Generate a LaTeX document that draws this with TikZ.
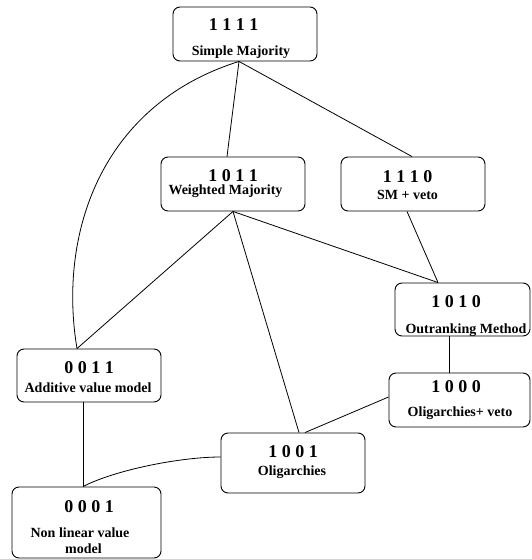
\documentclass[tikz,border=0pt]{standalone}
\usepackage{fontspec}
\setmainfont{Liberation Serif}
\usetikzlibrary{calc}
\begin{document}
\begin{tikzpicture}[x=1pt,y=-1pt,
  box/.style={draw,line width=0.9pt,rounded corners=7pt,inner sep=0pt},
  code/.style={anchor=base,inner sep=0pt,font=\fontsize{18}{20}\selectfont\bfseries},
  lbl/.style={anchor=base,inner sep=0pt,font=\fontsize{14}{16}\selectfont\bfseries},
  edge/.style={line width=0.8pt}]
\useasboundingbox (0,0) rectangle (531,559);
% boxes
\node[box,minimum width=144pt,minimum height=54pt] (b1111) at (245,34) {};
\node[box,minimum width=144pt,minimum height=54pt] (b1011) at (233,184) {};
\node[box,minimum width=144pt,minimum height=54pt] (b1110) at (413,184) {};
\node[box,minimum width=135pt,minimum height=53pt] (b1010) at (462.5,309.5) {};
\node[box,minimum width=144pt,minimum height=53pt] (b0011) at (89,375.5) {};
\node[box,minimum width=149pt,minimum height=71pt] (b0001) at (86.5,522.5) {};
\node[box,minimum width=144pt,minimum height=60pt] (b1001) at (293,463) {};
\node[box,minimum width=141pt,minimum height=54pt] (b1000) at (459.5,400) {};
% texts
\node[code] (c1111) at (233.5,31) {1 1 1 1};
\node[lbl] (l1111) at (241,56) {Simple Majority};
\node[code] (c1011) at (233,181) {1 0 1 1};
\node[lbl] (l1011) at (225.5,194) {Weighted Majority};
\node[code] (c1110) at (407.5,182) {1 1 1 0};
\node[lbl] (l1110) at (407.5,199) {SM + veto};
\node[code] (c1010) at (456,307) {1 0 1 0};
\node[lbl] (l1010) at (466,333) {Outranking Method};
\node[code] (c0011) at (89,373) {0 0 1 1};
\node[lbl] (l0011) at (88,392) {Additive value model};
\node[code] (c0001) at (89,512) {0 0 0 1};
\node[lbl] (l0001a) at (80,537) {Non linear value};
\node[lbl] (l0001b) at (83.5,553) {model};
\node[code] (c1001) at (293,457) {1 0 0 1};
\node[lbl] (l1001) at (292,475) {Oligarchies};
\node[code] (c1000) at (456,392) {1 0 0 0};
\node[lbl] (l1000) at (460,416) {Oligarchies+ veto};
% connection points
\coordinate (p1111s) at ($(b1111.south)+(-6,0)$);
\coordinate (p1011n) at ($(b1011.north)+(-6,0)$);
\coordinate (p1110n) at ($(b1110.north)+(-1,0)$);
\coordinate (p0011n) at ($(b0011.north)+(-12,0)$);
\coordinate (p1001n) at ($(b1001.north)+(6,0)$);
\coordinate (p1001n2) at ($(b1001.north)+(12,0)$);
\coordinate (p1010n) at ($(b1010.north)+(-24.5,0)$);
\coordinate (p1110s) at ($(b1110.south)+(-6,0)$);
\coordinate (p1010s) at ($(b1010.south)+(-13.5,0)$);
\coordinate (p1000n) at ($(b1000.north)+(-10.5,0)$);
\coordinate (p1000w) at ($(b1000.west)+(0,-3)$);
\coordinate (p1001w) at ($(b1001.west)+(0,-6)$);
\coordinate (p0001n) at ($(b0001.north)+(-3.5,0)$);
\coordinate (p0011s) at ($(b0011.south)+(-6,0)$);
% edges
\draw[edge] (p1111s) -- (p1011n);
\draw[edge] (p1111s) -- (p1110n);
\draw[edge] (p1111s) .. controls (100,105) and (58,235) .. (p0011n);
\draw[edge] (b1011.south) -- (p0011n);
\draw[edge] (b1011.south) -- (p1001n);
\draw[edge] (b1011.south) -- (p1010n);
\draw[edge] (p1110s) -- (p1010n);
\draw[edge] (p1010s) -- (p1000n);
\draw[edge] (p1000w) -- (p1001n2);
\draw[edge] (p1001w) .. controls (180,457) and (115,470) .. (p0001n);
\draw[edge] (p0011s) -- (p0001n);
\end{tikzpicture}
\end{document}
